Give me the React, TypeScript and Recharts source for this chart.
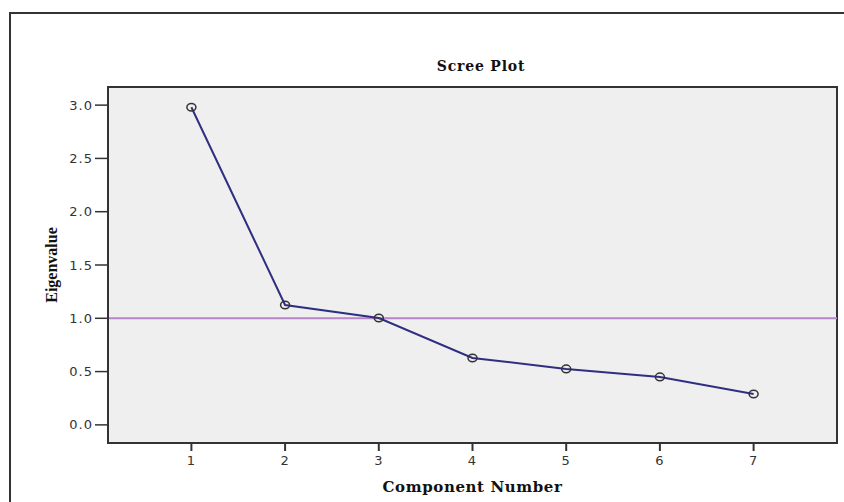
import React from 'react';
import { LineChart, Line, XAxis, YAxis, CartesianGrid, ReferenceLine, ReferenceArea, Label } from 'recharts';

const components = [1, 2, 3, 4, 5, 6, 7];
const eigenvalues = [2.98, 1.125, 1.003, 0.628, 0.525, 0.45, 0.29];
const yTicks = [0, 0.5, 1.0, 1.5, 2.0, 2.5, 3.0];
const xTicks = [1, 2, 3, 4, 5, 6, 7];
const xDomain: [number, number] = [0.11, 7.89];
const yDomain: [number, number] = [-0.17, 3.17];
const cutoff = 1.0;

const data = components.map((c, i) => ({ component: c, eigenvalue: eigenvalues[i] }));

const tickStyle = { fontFamily: 'DejaVu Sans', fontSize: 13, fill: '#333', letterSpacing: 1 };

const Dot = (props: any) => {
  const { cx, cy } = props;
  if (cx == null || cy == null) return null;
  return <ellipse cx={cx} cy={cy} rx={4.5} ry={3.8} fill="none" stroke="#333" strokeWidth={1.5} />;
};

export default function App() {
  return (
    <div style={{ position: 'absolute', left: 0, top: 0, width: 844, height: 502, background: '#fff', overflow: 'hidden' }}>
      <div style={{ position: 'absolute', left: 9, top: 12, width: 850, height: 500, borderLeft: '2px solid #333', borderTop: '2px solid #333' }} />
      <div style={{ position: 'absolute', left: 381, width: 200, top: 58, textAlign: 'center', fontFamily: 'DejaVu Serif', fontWeight: 'bold', fontSize: 14, letterSpacing: 0.8, color: '#111' }}>
        Scree Plot
      </div>
      <div style={{ position: 'absolute', left: 0, top: 0 }}>
        <LineChart width={844} height={502} data={data} margin={{ top: 87, right: 7, bottom: 0, left: 0 }}>
          <CartesianGrid horizontal={false} vertical={false} fill="#efefef" />
          <XAxis
            dataKey="component"
            type="number"
            domain={xDomain}
            ticks={xTicks}
            allowDataOverflow
            height={59}
            tickSize={8}
            tickMargin={5}
            axisLine={{ stroke: '#333', strokeWidth: 2 }}
            tickLine={{ stroke: '#333', strokeWidth: 2 }}
            tick={tickStyle}
          >
            <Label
              content={(p: any) => {
                const vb = p.viewBox;
                return (
                  <text x={vb.x + vb.width / 2} y={vb.y + 49} textAnchor="middle" fontFamily="DejaVu Serif" fontWeight="bold" fontSize={15} letterSpacing={0.6} fill="#111">
                    Component Number
                  </text>
                );
              }}
            />
          </XAxis>
          <YAxis
            type="number"
            domain={yDomain}
            ticks={yTicks}
            allowDataOverflow
            width={108}
            tickSize={13}
            tickMargin={2}
            tickFormatter={(v: number) => v.toFixed(1)}
            axisLine={{ stroke: '#333', strokeWidth: 2 }}
            tickLine={{ stroke: '#333', strokeWidth: 1.5 }}
            tick={tickStyle}
          >
            <Label
              content={(p: any) => {
                const vb = p.viewBox;
                const cx = 57;
                const cy = vb.y + vb.height / 2;
                return (
                  <text x={cx} y={cy} transform={`rotate(-90 ${cx} ${cy})`} textAnchor="middle" fontFamily="Liberation Serif" fontWeight="bold" fontSize={16} fill="#111">
                    Eigenvalue
                  </text>
                );
              }}
            />
          </YAxis>
          <ReferenceLine y={cutoff} stroke="#b985c9" strokeWidth={2} />
          <ReferenceArea x1={xDomain[0]} x2={xDomain[1]} y1={yDomain[0]} y2={yDomain[1]} fill="none" stroke="#333" strokeWidth={2} />
          <Line
            dataKey="eigenvalue"
            stroke="#2e2f80"
            strokeWidth={2}
            dot={<Dot />}
            activeDot={false}
            isAnimationActive={false}
          />
        </LineChart>
      </div>
    </div>
  );
}
